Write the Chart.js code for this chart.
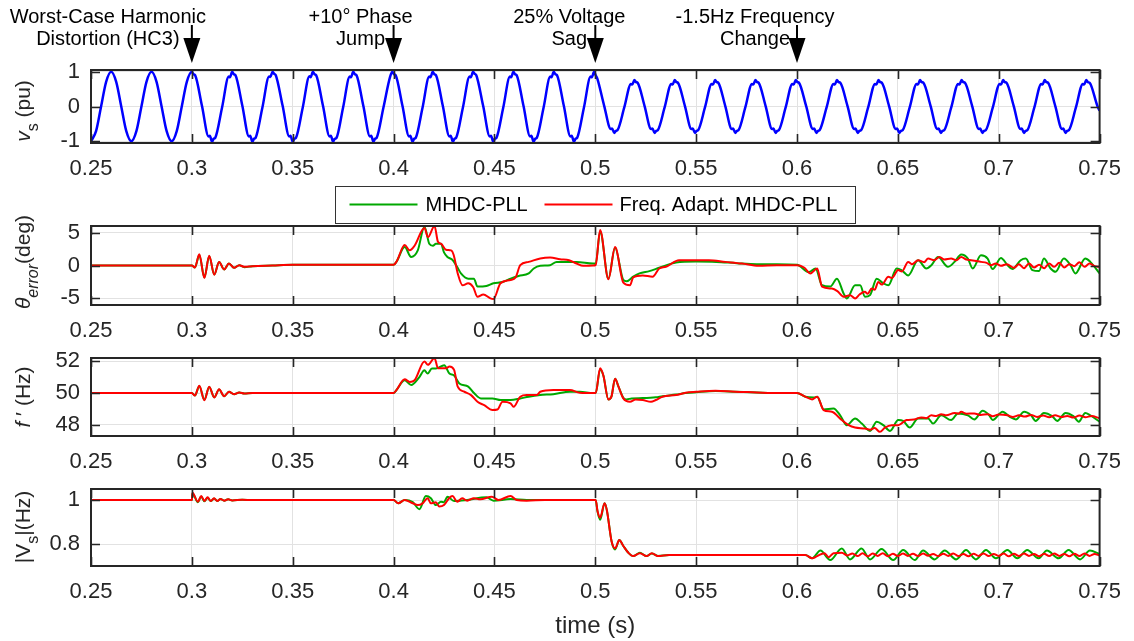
<!DOCTYPE html>
<html>
<head>
<meta charset="utf-8">
<title>PLL test waveforms</title>
<script src="https://cdn.jsdelivr.net/npm/chart.js@4.4.1/dist/chart.umd.min.js"></script>
<style>
  body { margin: 0; background: #fff; }
  #wrap { position: relative; width: 1134px; height: 641px; }
  #wrap canvas { position: absolute; left: 0; top: 0; }
</style>
</head>
<body>
<div id="wrap">
  <canvas id="vsChart" width="1134" height="641"></canvas>
  <canvas id="thetaChart" width="1134" height="641"></canvas>
  <canvas id="freqChart" width="1134" height="641"></canvas>
  <canvas id="magChart" width="1134" height="641"></canvas>
</div>
<script>
// ---- axis ticks ----
const timeTicks = [0.25, 0.3, 0.35, 0.4, 0.45, 0.5, 0.55, 0.6, 0.65, 0.7, 0.75];
const vsTicks = [-1, 0, 1];
const thetaTicks = [-5, 0, 5];
const freqTicks = [48, 50, 52];
const magTicks = [0.8, 1];

const seriesNames = ["MHDC-PLL", "Freq. Adapt. MHDC-PLL"];

// test events marked above the voltage plot
const eventTimes = [0.3, 0.4, 0.5, 0.6];
const eventLabels = [
  ["Worst-Case Harmonic", "Distortion (HC3)"],
  ["+10° Phase", "Jump"],
  ["25% Voltage", "Sag"],
  ["-1.5Hz Frequency", "Change"]
];

// ---- grid voltage v_s (pu), [time, value] ----
const vsNominal = [
  [0.25, -1], [0.2525, -0.71], [0.255, 0], [0.2575, 0.71], [0.26, 1], [0.2625, 0.71], [0.265, 0], [0.2675, -0.71],
  [0.27, -1], [0.2725, -0.71], [0.275, 0], [0.2775, 0.71], [0.28, 1], [0.2825, 0.71], [0.285, 0], [0.2875, -0.71],
  [0.29, -1], [0.2925, -0.71], [0.295, 0], [0.2975, 0.71]
];
const vsHarmonic = [
  [0.3000, 1.00], [0.3008, 0.93], [0.3016, 0.90], [0.3050, 0.02], [0.3083, -0.86], [0.3089, -0.84],
  [0.3100, -1.01], [0.3108, -0.93], [0.3116, -0.90], [0.3150, -0.02], [0.3183, 0.86], [0.3189, 0.84],
  [0.3200, 1.00], [0.3208, 0.93], [0.3216, 0.90], [0.3250, 0.03], [0.3283, -0.86], [0.3289, -0.84],
  [0.3300, -1.01], [0.3308, -0.93], [0.3316, -0.90], [0.3350, -0.02], [0.3383, 0.86], [0.3389, 0.85],
  [0.3400, 1.00], [0.3408, 0.94], [0.3416, 0.90], [0.3450, 0.02], [0.3483, -0.86], [0.3489, -0.84],
  [0.3500, -1.01], [0.3508, -0.93], [0.3516, -0.90], [0.3550, -0.02], [0.3583, 0.87], [0.3589, 0.84],
  [0.3600, 1.00], [0.3608, 0.93], [0.3616, 0.90], [0.3650, 0.02], [0.3683, -0.86], [0.3689, -0.84],
  [0.3700, -1.01], [0.3708, -0.93], [0.3716, -0.91], [0.3750, -0.02], [0.3783, 0.86], [0.3789, 0.84],
  [0.3800, 1.00], [0.3808, 0.93], [0.3816, 0.90], [0.3850, 0.02], [0.3883, -0.86], [0.3889, -0.84],
  [0.3900, -1.01], [0.3908, -0.93], [0.3916, -0.90], [0.3950, -0.02], [0.3983, 0.86]
];
const vsPhaseJump = [
  [0.3994, 1.00], [0.4002, 0.93], [0.4010, 0.90], [0.4044, 0.02], [0.4077, -0.86], [0.4083, -0.84],
  [0.4094, -1.01], [0.4102, -0.93], [0.4110, -0.90], [0.4144, -0.02], [0.4177, 0.86], [0.4183, 0.84],
  [0.4194, 1.00], [0.4202, 0.93], [0.4210, 0.90], [0.4244, 0.02], [0.4277, -0.86], [0.4283, -0.84],
  [0.4294, -1.01], [0.4302, -0.93], [0.4310, -0.90], [0.4344, -0.02], [0.4377, 0.86], [0.4383, 0.84],
  [0.4394, 1.00], [0.4402, 0.94], [0.4410, 0.90], [0.4444, 0.02], [0.4477, -0.86], [0.4483, -0.84],
  [0.4494, -1.01], [0.4502, -0.93], [0.4510, -0.90], [0.4544, -0.02], [0.4577, 0.86], [0.4583, 0.84],
  [0.4594, 1.00], [0.4602, 0.93], [0.4610, 0.90], [0.4644, 0.02], [0.4677, -0.86], [0.4683, -0.84],
  [0.4694, -1.01], [0.4702, -0.93], [0.4710, -0.90], [0.4744, -0.02], [0.4777, 0.86], [0.4783, 0.84],
  [0.4794, 1.00], [0.4802, 0.93], [0.4810, 0.90], [0.4844, 0.02], [0.4877, -0.86], [0.4883, -0.84],
  [0.4894, -1.01], [0.4902, -0.93], [0.4910, -0.90], [0.4944, -0.02], [0.4977, 0.86], [0.4983, 0.84]
];
const vsSag = [
  [0.4994, 1.00], [0.5002, 0.90], [0.5010, 0.80], [0.5044, 0.02], [0.5077, -0.65], [0.5083, -0.63],
  [0.5094, -0.76], [0.5102, -0.70], [0.5110, -0.68], [0.5144, -0.02], [0.5177, 0.65], [0.5183, 0.63],
  [0.5194, 0.76], [0.5202, 0.70], [0.5210, 0.68], [0.5244, 0.02], [0.5277, -0.65], [0.5283, -0.63],
  [0.5294, -0.76], [0.5302, -0.70], [0.5310, -0.68], [0.5344, -0.02], [0.5377, 0.65], [0.5383, 0.63],
  [0.5394, 0.76], [0.5402, 0.70], [0.5410, 0.68], [0.5444, 0.02], [0.5477, -0.65], [0.5483, -0.63],
  [0.5494, -0.76], [0.5502, -0.70], [0.5510, -0.68], [0.5544, -0.02], [0.5577, 0.65], [0.5583, 0.63],
  [0.5594, 0.76], [0.5602, 0.70], [0.5610, 0.68], [0.5644, 0.02], [0.5677, -0.65], [0.5683, -0.63],
  [0.5694, -0.76], [0.5702, -0.70], [0.5710, -0.68], [0.5744, -0.02], [0.5777, 0.65], [0.5783, 0.63],
  [0.5794, 0.76], [0.5802, 0.70], [0.5810, 0.68], [0.5844, 0.02], [0.5877, -0.65], [0.5883, -0.63],
  [0.5894, -0.76], [0.5902, -0.70], [0.5910, -0.68], [0.5944, -0.02], [0.5977, 0.65], [0.5983, 0.63]
];
const vsFreqStep = [
  [0.5994, 0.76], [0.6002, 0.70], [0.6010, 0.68], [0.6045, 0.02], [0.6079, -0.65], [0.6085, -0.63],
  [0.6096, -0.76], [0.6104, -0.70], [0.6112, -0.68], [0.6147, -0.02], [0.6181, 0.65], [0.6187, 0.63],
  [0.6198, 0.76], [0.6206, 0.70], [0.6215, 0.68], [0.6250, 0.02], [0.6284, -0.65], [0.6290, -0.63],
  [0.6301, -0.76], [0.6309, -0.70], [0.6318, -0.68], [0.6353, -0.02], [0.6387, 0.65], [0.6393, 0.63],
  [0.6404, 0.76], [0.6412, 0.70], [0.6421, 0.68], [0.6456, 0.02], [0.6490, -0.65], [0.6496, -0.63],
  [0.6507, -0.76], [0.6515, -0.70], [0.6524, -0.68], [0.6559, -0.02], [0.6593, 0.65], [0.6599, 0.63],
  [0.6610, 0.76], [0.6618, 0.70], [0.6627, 0.68], [0.6662, 0.02], [0.6696, -0.65], [0.6702, -0.63],
  [0.6713, -0.76], [0.6721, -0.70], [0.6730, -0.68], [0.6765, -0.02], [0.6799, 0.65], [0.6805, 0.63],
  [0.6816, 0.76], [0.6824, 0.70], [0.6833, 0.68], [0.6868, 0.02], [0.6902, -0.65], [0.6908, -0.63],
  [0.6919, -0.76], [0.6927, -0.70], [0.6936, -0.68], [0.6971, -0.02], [0.7005, 0.65], [0.7011, 0.63],
  [0.7022, 0.76], [0.7030, 0.70], [0.7039, 0.68], [0.7074, 0.02], [0.7108, -0.65], [0.7114, -0.63],
  [0.7125, -0.76], [0.7133, -0.70], [0.7142, -0.68], [0.7177, -0.02], [0.7211, 0.65], [0.7217, 0.63],
  [0.7228, 0.76], [0.7236, 0.70], [0.7245, 0.68], [0.7280, 0.02], [0.7314, -0.65], [0.7320, -0.63],
  [0.7331, -0.76], [0.7339, -0.70], [0.7348, -0.68], [0.7383, -0.02], [0.7417, 0.65], [0.7423, 0.63],
  [0.7434, 0.76], [0.7442, 0.70], [0.7451, 0.68], [0.7490, 0.0], [0.75, -0.12]
];

// ---- phase error theta_error (deg) ----
const thetaMhdc = [
  [0.25, 0], [0.30, 0], [0.3015, -0.3], [0.3037, 1.6], [0.3062, -1.8], [0.3086, 1.4], [0.3111, -1.35], [0.3135, 0.55],
  [0.316, -0.6], [0.3184, 0.3], [0.3209, -0.35], [0.3235, 0.05], [0.326, -0.25], [0.33, -0.1], [0.34, 0], [0.35, 0.1],
  [0.40, 0.1], [0.4015, 0.6], [0.4055, 2.8], [0.4087, 1.3], [0.412, 2.3], [0.4153, 5.9], [0.4177, 3.3], [0.4195, 3.0],
  [0.421, 3.3], [0.4235, 3.3], [0.425, 2.0], [0.4267, 1.3], [0.429, 0.9], [0.4315, -0.2], [0.4334, -1.2], [0.437, -2.0],
  [0.4398, -2.0], [0.4416, -3.2], [0.446, -3.1], [0.4495, -2.7], [0.454, -2.5], [0.458, -2.0], [0.462, -1.6], [0.467, -1.2],
  [0.4695, -0.45], [0.4727, -0.05], [0.4776, 0.05], [0.4808, 0.55], [0.4907, 0.55], [0.4989, 0.3],
  [0.5002, 0.3], [0.5024, 5.2], [0.5065, -2.0], [0.5098, 2.7], [0.5139, -2.2], [0.5155, -2.4], [0.5188, -1.7], [0.5219, -1.2],
  [0.5268, -0.85], [0.5317, -0.35], [0.54, 0.45], [0.55, 0.6], [0.56, 0.55], [0.57, 0.35], [0.58, 0.2], [0.59, 0.2],
  [0.60, 0.1], [0.6059, -1.0], [0.6092, -0.45], [0.6124, -3.0], [0.6165, -3.2], [0.6198, -2.0], [0.6231, -4.25], [0.6247, -5.0],
  [0.6288, -3.0], [0.6313, -3.0], [0.6337, -4.75], [0.6362, -4.5], [0.6395, -2.0], [0.6428, -2.7], [0.6453, -3.0], [0.6494, -0.45],
  [0.6518, -0.7], [0.6551, -1.5], [0.66, 0.8], [0.6641, -0.45], [0.6666, 0.05], [0.6699, 1.3], [0.6748, -0.2], [0.6781, 0.55],
  [0.6814, 1.67], [0.6847, 1.05], [0.6871, -0.45], [0.6912, 1.55], [0.6945, 1.05], [0.697, -0.55], [0.7011, 1.15], [0.7044, 0.05],
  [0.7068, -0.55], [0.7109, 0.8], [0.7134, 1.05], [0.7167, -0.7], [0.72, -0.85], [0.7224, 1.05], [0.7257, -0.45], [0.7282, -0.95],
  [0.7323, 1.05], [0.7356, 0.05], [0.738, -1.2], [0.7429, 1.05], [0.7454, 0.55], [0.75, -1.2]
];
const thetaAdaptive = [
  [0.25, 0], [0.30, 0], [0.3015, -0.3], [0.3037, 1.7], [0.3062, -1.9], [0.3086, 1.5], [0.3111, -1.4], [0.3135, 0.55],
  [0.316, -0.6], [0.3184, 0.3], [0.3209, -0.35], [0.3235, 0.05], [0.326, -0.2], [0.33, -0.1], [0.34, 0], [0.35, 0.1],
  [0.40, 0.1], [0.4015, 0.6], [0.4055, 3.1], [0.408, 2.3], [0.4104, 3.0], [0.4153, 5.7], [0.417, 4.3], [0.4203, 6.0],
  [0.422, 3.6], [0.4236, 3.3], [0.426, 2.4], [0.4285, 2.3], [0.4298, 1.6], [0.4318, -1.2], [0.4342, -3.0], [0.437, -2.7],
  [0.4395, -3.3], [0.4416, -4.75], [0.4445, -4.4], [0.448, -5.0], [0.4495, -5.1], [0.453, -2.7], [0.458, -2.2], [0.4605, -1.8],
  [0.4628, 0.05], [0.467, 0.55], [0.4727, 1.06], [0.4776, 1.2], [0.4825, 0.96], [0.487, 0.8], [0.4907, 0.3], [0.494, -0.05],
  [0.4989, 0], [0.5002, 0.1], [0.5024, 5.4], [0.5065, -2.1], [0.5098, 2.8], [0.5139, -2.6], [0.5172, -3.0], [0.5188, -1.8],
  [0.5235, -1.5], [0.5284, -1.7], [0.5317, -0.45], [0.535, -0.2], [0.5415, 0.8], [0.548, 0.8], [0.5563, 0.8], [0.5645, 0.55],
  [0.5727, 0.3], [0.581, -0.05], [0.59, 0.05], [0.60, 0.05], [0.6035, -0.3], [0.6067, -1.2], [0.61, -0.45], [0.6124, -3.2],
  [0.6173, -3.5], [0.62, -3.9], [0.6231, -4.75], [0.6263, -4.5], [0.6288, -5.0], [0.631, -4.4], [0.6337, -4.0], [0.635, -4.3],
  [0.637, -3.5], [0.6385, -3.7], [0.6403, -2.5], [0.642, -2.9], [0.6453, -1.7], [0.647, -1.9], [0.6502, -0.7], [0.652, -0.9],
  [0.6551, 0.55], [0.657, 0.2], [0.66, 0.8], [0.663, 0.5], [0.665, 1.05], [0.668, 0.8], [0.6707, 1.3], [0.673, 0.9],
  [0.6764, 1.05], [0.679, 0.8], [0.6814, 1.3], [0.684, 0.9], [0.6863, 0.8], [0.6912, 0.55], [0.694, 0.4], [0.6961, 0.05],
  [0.6985, 0.3], [0.7011, -0.05], [0.704, 0.2], [0.7076, -0.35], [0.71, 0.2], [0.7125, -0.4], [0.715, 0.3], [0.7175, -0.3],
  [0.72, 0.1], [0.7225, -0.4], [0.725, 0.3], [0.7275, -0.2], [0.73, 0.4], [0.7325, -0.3], [0.735, 0.2], [0.7375, -0.1],
  [0.74, 0.5], [0.7425, -0.2], [0.745, 0.3], [0.7475, -0.1], [0.75, -0.2]
];

// ---- estimated frequency f' (Hz) ----
const freqMhdc = [
  [0.25, 50], [0.30, 50], [0.3015, 49.85], [0.3037, 50.42], [0.3062, 49.58], [0.3086, 50.38], [0.3111, 49.73], [0.3135, 50.22],
  [0.316, 49.8], [0.3184, 50.08], [0.3209, 49.92], [0.3235, 50.03], [0.326, 49.97], [0.33, 50], [0.40, 50],
  [0.4015, 50.2], [0.4055, 50.8], [0.4087, 50.5], [0.4128, 51.0], [0.4153, 51.43], [0.4169, 51.22], [0.419, 51.54], [0.421, 51.54],
  [0.4251, 51.75], [0.4277, 51.22], [0.43, 51.1], [0.4326, 50.6], [0.437, 50.4], [0.44, 49.98], [0.4433, 49.66], [0.449, 49.66],
  [0.4531, 49.56], [0.458, 49.56], [0.4628, 49.66], [0.467, 49.77], [0.4727, 49.87], [0.4792, 49.93], [0.4874, 50.08], [0.4923, 50.08],
  [0.4989, 50.0], [0.5002, 50], [0.5024, 51.5], [0.504, 51.1], [0.5065, 49.6], [0.508, 49.77], [0.5098, 50.9], [0.5115, 50.4],
  [0.5139, 49.7], [0.5155, 49.6], [0.518, 49.66], [0.5235, 49.68], [0.53, 49.73], [0.5333, 49.8], [0.54, 49.9], [0.5448, 50.0],
  [0.55, 50.05], [0.5596, 50.12], [0.5694, 50.08], [0.58, 50.04], [0.5875, 50], [0.60, 50], [0.6041, 49.77], [0.6084, 49.72],
  [0.61, 49.77], [0.6132, 48.97], [0.6181, 49.03], [0.6214, 48.6], [0.6247, 47.98], [0.6288, 48.4], [0.6321, 48.08], [0.6362, 47.62],
  [0.6395, 48.2], [0.6428, 47.98], [0.6461, 47.62], [0.6502, 48.3], [0.6526, 48.25], [0.6559, 47.83], [0.66, 48.4], [0.665, 48.4],
  [0.6674, 48.08], [0.6715, 48.6], [0.6764, 48.3], [0.6798, 48.72], [0.6847, 48.6], [0.6879, 48.34], [0.692, 48.88], [0.6953, 48.6],
  [0.697, 48.3], [0.7019, 48.82], [0.7055, 48.5], [0.7085, 48.34], [0.7126, 48.82], [0.716, 48.6], [0.7183, 48.25], [0.7224, 48.75],
  [0.7265, 48.55], [0.729, 48.25], [0.7331, 48.75], [0.737, 48.55], [0.7397, 48.2], [0.7429, 48.75], [0.7454, 48.6], [0.75, 48.2]
];
const freqAdaptive = [
  [0.25, 50], [0.30, 50], [0.3015, 49.84], [0.3037, 50.46], [0.3062, 49.55], [0.3086, 50.4], [0.3111, 49.72], [0.3135, 50.23],
  [0.316, 49.8], [0.3184, 50.08], [0.3209, 49.92], [0.3235, 50.03], [0.326, 49.97], [0.33, 50], [0.40, 50],
  [0.4015, 50.2], [0.4055, 50.86], [0.408, 50.7], [0.4104, 50.8], [0.4153, 51.98], [0.417, 51.77], [0.4203, 52.2], [0.422, 51.56],
  [0.426, 51.56], [0.4277, 51.66], [0.43, 51.45], [0.4318, 50.4], [0.4351, 50.08], [0.4384, 49.87], [0.4416, 49.45], [0.4449, 49.24],
  [0.449, 48.93], [0.4515, 48.96], [0.454, 49.45], [0.458, 49.35], [0.4595, 49.13], [0.4628, 49.77], [0.466, 49.87], [0.471, 49.87],
  [0.4727, 50.08], [0.4792, 50.19], [0.4874, 50.19], [0.4923, 50.02], [0.4989, 50.0], [0.5002, 50], [0.5024, 51.55], [0.504, 51.1],
  [0.5065, 49.6], [0.508, 49.77], [0.5098, 50.9], [0.5115, 50.4], [0.5139, 49.66], [0.5172, 49.45], [0.52, 49.6], [0.5235, 49.56],
  [0.5276, 49.45], [0.53, 49.56], [0.5333, 49.77], [0.54, 49.87], [0.5448, 50.02], [0.55, 50.08], [0.5596, 50.15], [0.5694, 50.08],
  [0.58, 50.04], [0.5875, 50], [0.60, 50], [0.6041, 49.77], [0.6075, 49.6], [0.61, 49.77], [0.6132, 48.93], [0.6173, 48.82],
  [0.6222, 48.3], [0.6256, 47.98], [0.6288, 47.83], [0.6337, 47.77], [0.6362, 47.7], [0.6385, 47.8], [0.6411, 47.56], [0.6436, 47.83],
  [0.6469, 47.98], [0.6502, 47.98], [0.6543, 48.3], [0.658, 48.34], [0.6617, 48.47], [0.664, 48.42], [0.6666, 48.6], [0.669, 48.55],
  [0.6715, 48.67], [0.674, 48.6], [0.6781, 48.75], [0.68, 48.7], [0.6814, 48.82], [0.684, 48.7], [0.6879, 48.72], [0.691, 48.62],
  [0.6945, 48.67], [0.697, 48.54], [0.7, 48.65], [0.7044, 48.6], [0.707, 48.5], [0.71, 48.6], [0.713, 48.52], [0.716, 48.62],
  [0.719, 48.5], [0.722, 48.58], [0.725, 48.48], [0.728, 48.6], [0.731, 48.5], [0.734, 48.56], [0.737, 48.46], [0.74, 48.58],
  [0.743, 48.48], [0.746, 48.55], [0.75, 48.42]
];

// ---- estimated amplitude |V_s| ----
const magMhdc = [
  [0.25, 1], [0.30, 1], [0.3003, 1.03], [0.303, 0.99], [0.3046, 1.016], [0.3062, 0.994], [0.3078, 1.01], [0.3094, 0.995],
  [0.311, 1.007], [0.3126, 0.996], [0.3142, 1.005], [0.316, 0.997], [0.318, 1.003], [0.32, 0.998], [0.325, 1.001], [0.33, 1.0],
  [0.40, 1.0], [0.4023, 0.985], [0.4055, 1.0], [0.4095, 0.99], [0.4128, 0.958], [0.416, 1.018], [0.4185, 1.008], [0.4209, 0.977],
  [0.4235, 0.992], [0.425, 0.99], [0.4267, 1.015], [0.43, 0.995], [0.4365, 1.0], [0.446, 1.012], [0.4495, 0.997], [0.458, 1.004],
  [0.466, 1.0], [0.4989, 1.0], [0.5002, 1.0], [0.5011, 0.947], [0.5024, 0.91], [0.5046, 0.985], [0.5057, 0.955], [0.5081, 0.811],
  [0.5098, 0.775], [0.5119, 0.818], [0.5139, 0.791], [0.5164, 0.76], [0.5188, 0.745], [0.5221, 0.76], [0.5254, 0.745], [0.528, 0.757],
  [0.531, 0.746], [0.5366, 0.75], [0.60, 0.75], [0.6041, 0.75], [0.6075, 0.735], [0.6116, 0.77], [0.6165, 0.727], [0.6222, 0.78],
  [0.6263, 0.73], [0.632, 0.78], [0.6362, 0.73], [0.6419, 0.777], [0.6477, 0.727], [0.6526, 0.773], [0.6584, 0.727], [0.6625, 0.77],
  [0.6682, 0.73], [0.6732, 0.77], [0.6789, 0.73], [0.6838, 0.773], [0.6887, 0.73], [0.6937, 0.773], [0.6986, 0.735], [0.7043, 0.773],
  [0.7092, 0.735], [0.7141, 0.773], [0.7198, 0.735], [0.7239, 0.77], [0.7297, 0.735], [0.7346, 0.773], [0.7403, 0.73], [0.7452, 0.77],
  [0.75, 0.755]
];
const magAdaptive = [
  [0.25, 1], [0.30, 1], [0.3003, 1.033], [0.303, 0.992], [0.3046, 1.018], [0.3062, 0.996], [0.3078, 1.012], [0.3094, 0.995],
  [0.311, 1.008], [0.3126, 0.996], [0.3142, 1.005], [0.316, 0.997], [0.318, 1.003], [0.32, 0.998], [0.325, 1.001], [0.33, 1.0],
  [0.40, 1.0], [0.4023, 0.985], [0.4055, 1.0], [0.4095, 0.985], [0.412, 0.977], [0.4144, 0.985], [0.4169, 1.008], [0.4185, 0.985],
  [0.421, 0.99], [0.4226, 0.97], [0.425, 0.977], [0.4275, 1.008], [0.4292, 1.018], [0.4316, 0.992], [0.434, 1.008], [0.4365, 0.997],
  [0.4398, 1.008], [0.443, 1.003], [0.4487, 1.015], [0.452, 1.0], [0.458, 1.018], [0.461, 1.0], [0.466, 0.997], [0.475, 1.0],
  [0.4989, 1.0], [0.5002, 1.0], [0.5011, 0.95], [0.5024, 0.92], [0.5046, 0.985], [0.5057, 0.955], [0.5081, 0.811], [0.5098, 0.78],
  [0.5119, 0.818], [0.5139, 0.791], [0.5164, 0.76], [0.5188, 0.745], [0.5221, 0.758], [0.5254, 0.745], [0.528, 0.758], [0.531, 0.745],
  [0.5366, 0.75], [0.60, 0.75], [0.6041, 0.75], [0.6075, 0.735], [0.61, 0.745], [0.6135, 0.758], [0.6157, 0.74], [0.6181, 0.758],
  [0.6222, 0.76], [0.625, 0.748], [0.6275, 0.757], [0.63, 0.745], [0.6325, 0.758], [0.635, 0.744], [0.6375, 0.757], [0.64, 0.746],
  [0.6425, 0.758], [0.645, 0.744], [0.6475, 0.756], [0.65, 0.745], [0.6525, 0.757], [0.655, 0.746], [0.6575, 0.756], [0.66, 0.745],
  [0.6625, 0.757], [0.665, 0.747], [0.6675, 0.755], [0.67, 0.745], [0.6725, 0.756], [0.675, 0.746], [0.6775, 0.757], [0.68, 0.745],
  [0.6825, 0.755], [0.685, 0.744], [0.6875, 0.756], [0.69, 0.746], [0.6925, 0.757], [0.695, 0.745], [0.6975, 0.755], [0.70, 0.746],
  [0.7025, 0.757], [0.705, 0.744], [0.7075, 0.756], [0.71, 0.745], [0.7125, 0.757], [0.715, 0.746], [0.7175, 0.755], [0.72, 0.744],
  [0.7225, 0.756], [0.725, 0.745], [0.7275, 0.757], [0.73, 0.746], [0.7325, 0.755], [0.735, 0.744], [0.7375, 0.756], [0.74, 0.745],
  [0.7425, 0.757], [0.745, 0.746], [0.7475, 0.755], [0.75, 0.748]
];

// ---- drawing ----
const FONT = "'Liberation Sans', Arial, Helvetica, sans-serif";
const INK = "#262626";
const BLUE = "#0000ff";
const GREEN = "#00a800";
const RED = "#ff0000";

const toXY = rows => rows.map(([x, y]) => ({ x, y }));

// text centre of each event label relative to its arrow
const calloutDx = [-84, -33, -26, -42];

// rotated y label with italic / subscript runs
function drawYLabel(ctx, parts, x, cy) {
  const fontOf = p => (p.i ? "italic " : "") + (p.sub ? 16 : 21) + "px " + FONT;
  ctx.save();
  ctx.translate(x, cy);
  ctx.rotate(-Math.PI / 2);
  ctx.fillStyle = INK;
  ctx.textAlign = "left";
  ctx.textBaseline = "alphabetic";
  const widths = parts.map(p => { ctx.font = fontOf(p); return ctx.measureText(p.t).width; });
  let pos = -widths.reduce((a, b) => a + b, 0) / 2;
  parts.forEach((p, k) => {
    ctx.font = fontOf(p);
    ctx.fillText(p.t, pos, p.sub ? 8 : 0);
    pos += widths[k];
  });
  ctx.restore();
}

// MATLAB-like box: dark frame with inward ticks on all four sides
function boxPlugin(yTicks, label) {
  return {
    id: "axesBox",
    afterDraw(chart) {
      const { ctx, chartArea: a, scales } = chart;
      const tick = 9;
      ctx.save();
      ctx.strokeStyle = INK;
      ctx.lineWidth = 1.6;
      ctx.beginPath();
      timeTicks.forEach(v => {
        const px = Math.round(scales.x.getPixelForValue(v)) + 0.5;
        ctx.moveTo(px, a.bottom); ctx.lineTo(px, a.bottom - tick);
        ctx.moveTo(px, a.top); ctx.lineTo(px, a.top + tick);
      });
      yTicks.forEach(v => {
        const py = Math.round(scales.y.getPixelForValue(v)) + 0.5;
        ctx.moveTo(a.left, py); ctx.lineTo(a.left + tick, py);
        ctx.moveTo(a.right, py); ctx.lineTo(a.right - tick, py);
      });
      ctx.stroke();
      ctx.lineWidth = 2;
      ctx.strokeRect(a.left, a.top, a.right - a.left, a.bottom - a.top);
      ctx.restore();
      drawYLabel(ctx, label.parts, 30, label.cy);
    }
  };
}

const eventPlugin = {
  id: "events",
  afterDraw(chart) {
    const { ctx, scales } = chart;
    ctx.save();
    ctx.fillStyle = "#000";
    ctx.strokeStyle = "#000";
    ctx.font = "20px " + FONT;
    ctx.textAlign = "center";
    ctx.textBaseline = "alphabetic";
    eventTimes.forEach((t, k) => {
      const ax = scales.x.getPixelForValue(t);
      const cx = ax + calloutDx[k];
      ctx.fillText(eventLabels[k][0], cx, 23);
      ctx.fillText(eventLabels[k][1], cx, 45);
      ctx.lineWidth = 2;
      ctx.beginPath();
      ctx.moveTo(ax, 25); ctx.lineTo(ax, 40);
      ctx.stroke();
      ctx.beginPath();
      ctx.moveTo(ax - 8.5, 38); ctx.lineTo(ax + 8.5, 38); ctx.lineTo(ax, 63);
      ctx.closePath();
      ctx.fill();
    });
    ctx.restore();
  }
};

const legendPlugin = {
  id: "pllLegend",
  afterDraw(chart) {
    const { ctx, chartArea: a } = chart;
    const left = Math.round((a.left + a.right) / 2 - 260) + 0.5;
    const top = 186.5, h = 37, mid = 204.5;
    ctx.save();
    ctx.fillStyle = "#fff";
    ctx.fillRect(left, top, 520, h);
    ctx.strokeStyle = "#333";
    ctx.lineWidth = 1;
    ctx.strokeRect(left, top, 520, h);
    ctx.lineWidth = 2;
    [[GREEN, 14, 90], [RED, 209, 284]].forEach(([c, x0, tx], k) => {
      ctx.strokeStyle = c;
      ctx.beginPath();
      ctx.moveTo(left + x0, mid); ctx.lineTo(left + x0 + 68, mid);
      ctx.stroke();
      ctx.fillStyle = "#000";
      ctx.font = "20px " + FONT;
      ctx.textBaseline = "middle";
      ctx.fillText(seriesNames[k], left + tx, mid + 1);
    });
    ctx.restore();
  }
};

function makePanel(id, cfg) {
  const yTicks = cfg.yTicks;
  return new Chart(document.getElementById(id), {
    type: "line",
    data: { datasets: cfg.datasets },
    options: {
      responsive: false,
      animation: false,
      events: [],
      layout: { padding: { top: cfg.top, bottom: cfg.bottom, left: 0, right: 28 } },
      elements: { point: { radius: 0 }, line: { borderWidth: 2, cubicInterpolationMode: "monotone" } },
      plugins: { legend: { display: false }, tooltip: { enabled: false } },
      scales: {
        x: {
          type: "linear",
          min: 0.25,
          max: 0.75,
          afterBuildTicks: ax => { ax.ticks = timeTicks.map(v => ({ value: v })); },
          afterFit: ax => { ax.height = cfg.xHeight; },
          border: { display: false },
          grid: { color: "#e2e2e2", lineWidth: 1, drawTicks: false },
          ticks: {
            autoSkip: false, maxRotation: 0, padding: 13, color: INK,
            font: { family: FONT, size: 22 },
            callback: v => String(Math.round(v * 100) / 100)
          },
          title: cfg.xTitle
            ? { display: true, text: cfg.xTitle, color: INK, font: { family: FONT, size: 24 }, padding: 0 }
            : { display: false }
        },
        y: {
          min: cfg.yMin,
          max: cfg.yMax,
          afterBuildTicks: ax => { ax.ticks = yTicks.map(v => ({ value: v })); },
          afterFit: ax => { ax.width = 91; },
          border: { display: false },
          grid: { color: "#e2e2e2", lineWidth: 1, drawTicks: false },
          ticks: {
            padding: 11, color: INK, font: { family: FONT, size: 22 },
            callback: v => String(Math.round(v * 100) / 100)
          }
        }
      }
    },
    plugins: [boxPlugin(yTicks, cfg.label)].concat(cfg.extra || [])
  });
}

// red (adaptive) is drawn over green
const pllSeries = (mhdc, adaptive) => [
  { label: seriesNames[0], data: toXY(mhdc), borderColor: GREEN, borderWidth: 2, order: 2 },
  { label: seriesNames[1], data: toXY(adaptive), borderColor: RED, borderWidth: 2, order: 1 }
];

makePanel("vsChart", {
  top: 70, bottom: 453, xHeight: 45, yMin: -1.05, yMax: 1.05, yTicks: vsTicks,
  label: { cy: 111, parts: [{ t: "v", i: 1 }, { t: "s", sub: 1 }, { t: " (pu)" }] },
  datasets: [{
    label: "vs",
    data: toXY([].concat(vsNominal, vsHarmonic, vsPhaseJump, vsSag, vsFreqStep)),
    borderColor: BLUE, borderWidth: 2.5
  }],
  extra: [eventPlugin]
});

makePanel("thetaChart", {
  top: 226, bottom: 291, xHeight: 45, yMin: -6, yMax: 6, yTicks: thetaTicks,
  label: { cy: 262, parts: [{ t: "θ", i: 1 }, { t: "error", i: 1, sub: 1 }, { t: "(deg)" }] },
  datasets: pllSeries(thetaMhdc, thetaAdaptive),
  extra: [legendPlugin]
});

makePanel("freqChart", {
  top: 358, bottom: 160, xHeight: 45, yMin: 47.3, yMax: 52.2, yTicks: freqTicks,
  label: { cy: 397, parts: [{ t: "f", i: 1 }, { t: " ′ (Hz)" }] },
  datasets: pllSeries(freqMhdc, freqAdaptive)
});

makePanel("magChart", {
  top: 489, bottom: 0, xHeight: 75, yMin: 0.7, yMax: 1.05, yTicks: magTicks,
  label: { cy: 527, parts: [{ t: "|V" }, { t: "s", sub: 1 }, { t: "|(Hz)" }] },
  datasets: pllSeries(magMhdc, magAdaptive),
  xTitle: "time (s)"
});
</script>
</body>
</html>
